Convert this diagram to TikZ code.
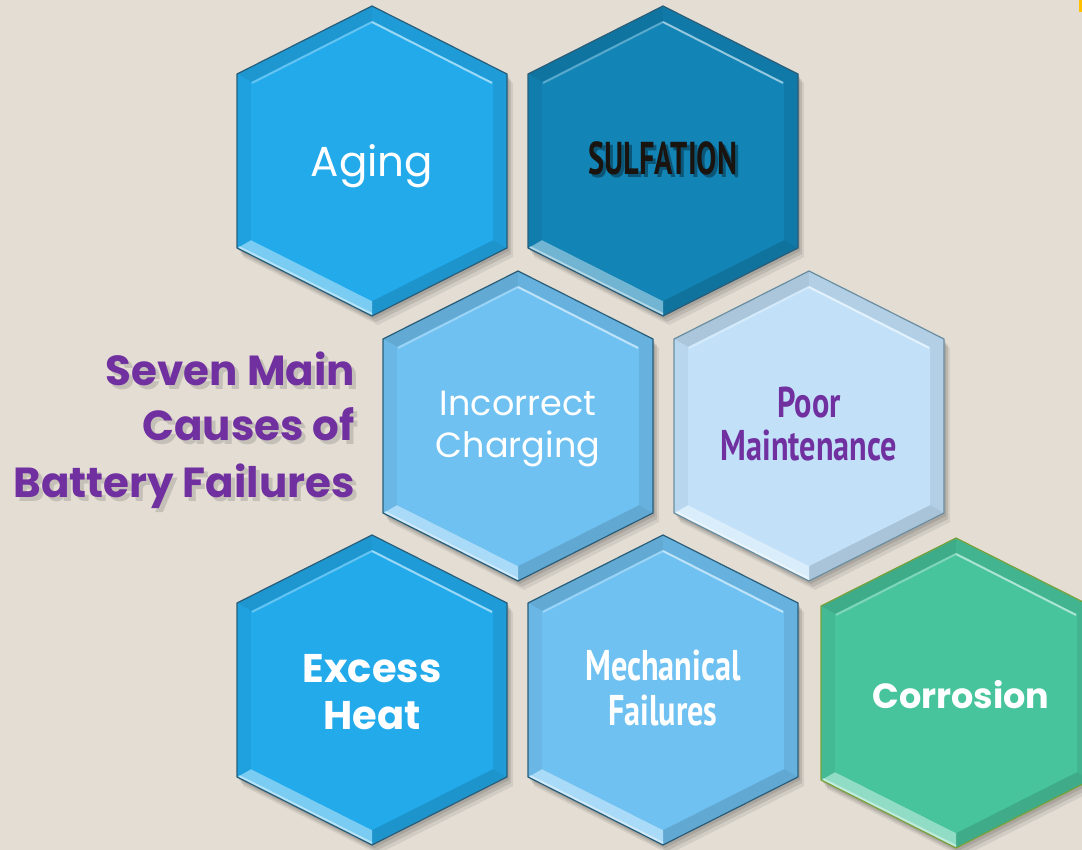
\documentclass[tikz,border=0pt]{standalone}
\usepackage{fontspec}
\newfontfamily\gothic{Poppins}
\newfontfamily\condf{PT Sans}[FakeStretch=0.75]
\newfontfamily\condn{PT Sans}[FakeStretch=0.66]
\definecolor{bg}{HTML}{E3DDD3}
\definecolor{cA}{HTML}{22AAEB}
\definecolor{cS}{HTML}{1284B6}
\definecolor{cI}{HTML}{6FC1F1}
\definecolor{cP}{HTML}{C2E1F9}
\definecolor{cC}{HTML}{48C49C}
\definecolor{lnB}{HTML}{2A5D78}
\definecolor{lnG}{HTML}{7BA23A}
\definecolor{purp}{HTML}{7030A0}
\definecolor{sulf}{HTML}{1A1410}
\definecolor{orng}{HTML}{FFC000}
\newcommand\hexout{(0,-155) -- (135,-87) -- (135,87) -- (0,155) -- (-135,87) -- (-135,-87) -- cycle}
\newcommand\hexin{(0,-140) -- (121,-79) -- (121,79) -- (0,140) -- (-121,79) -- (-121,-79) -- cycle}
\newcommand\drawhex[4]{%
\begin{scope}[shift={(#1,#2)}]
  \fill[black,opacity=.10,shift={(2,3)}] \hexout;
  \fill[black,opacity=.10,shift={(4,6)}] \hexout;
  \fill[black,opacity=.07,shift={(6,9)}] \hexout;
  \fill[#3] \hexout;
  \fill[#3!88!black] (-135,-87) -- (0,-155) -- (0,-140) -- (-121,-79) -- cycle;
  \fill[#3!92!black] (0,-155) -- (135,-87) -- (121,-79) -- (0,-140) -- cycle;
  \fill[#3!92!black] (135,-87) -- (135,87) -- (121,79) -- (121,-79) -- cycle;
  \fill[#3!87!black] (135,87) -- (0,155) -- (0,140) -- (121,79) -- cycle;
  \fill[#3!60!white] (0,155) -- (-135,87) -- (-121,79) -- (0,140) -- cycle;
  \fill[#3!95!black] (-135,87) -- (-135,-87) -- (-121,-79) -- (-121,79) -- cycle;
  \fill[#3] \hexin;
  \draw[white,opacity=.55,line width=2pt] (0,-139) -- (120,-78);
  \draw[white,opacity=.3,line width=2pt] (0,-139) -- (-120,-78);
  \draw[white,opacity=.45,line width=2pt] (-133,86) -- (0,153);
  \draw[#4,line width=1.2pt,line join=round] \hexout;
\end{scope}}
\tikzset{
  thin label/.style={text=white,font=\gothic\fontsize{#1}{#1}\selectfont,inner sep=0pt,anchor=base},
  bold label/.style={font=\gothic\bfseries\fontsize{#1}{#1}\selectfont,inner sep=0pt,anchor=base},
  cond label/.style={font=\condf\bfseries\fontsize{#1}{#1}\selectfont,inner sep=0pt,anchor=base},
  narrow label/.style={font=\condn\bfseries\fontsize{#1}{#1}\selectfont,inner sep=0pt,anchor=base},
}
\begin{document}
\begin{tikzpicture}[x=1pt,y=-1pt]
\useasboundingbox (0,0) rectangle (1082,850);
\clip (0,0) rectangle (1082,850);
\fill[bg] (0,0) rectangle (1082,850);
\fill[orng] (1079,0) rectangle (1082,12);
% hexagons
\drawhex{372}{161}{cA}{lnB}
\drawhex{663}{161}{cS}{lnB}
\drawhex{518}{426}{cI}{lnB}
\drawhex{809}{426}{cP}{lnB!70!white}
\drawhex{372}{690}{cA}{lnB}
\drawhex{663}{690}{cI}{lnB}
\drawhex{956}{693}{cC}{lnG}
% texts
\node[thin label=42] (aging) at (372,177) {Aging};
\node[narrow label=46,text=black,opacity=.35] (sulfsh) at (666,178) {SULFATION};
\node[narrow label=46,text=sulf] (sulf) at (663,175) {SULFATION};
\node[thin label=35] (inc1) at (518,415) {Incorrect};
\node[thin label=35] (inc2) at (518,457) {Charging};
\node[cond label=43,text=purp] (poor1) at (809,417) {Poor};
\node[cond label=43,text=purp] (poor2) at (809,460) {Maintenance};
\node[bold label=40,text=white] (exc1) at (372,682) {Excess};
\node[bold label=40,text=white] (exc2) at (372,729) {Heat};
\node[cond label=43,text=white] (mech1) at (663,680) {Mechanical};
\node[cond label=43,text=white] (mech2) at (663,725) {Failures};
\node[bold label=35,text=white] (corr) at (961,708) {Corrosion};
% title
\foreach \t/\yy/\nm in {Seven Main/385/t1,Causes of/440/t2,Battery Failures/497/t3}{
  \node[bold label=42,text=black,opacity=.13,anchor=base east] (\nm s) at (359,\yy+4) {\t};
  \node[bold label=42,text=purp,anchor=base east] (\nm) at (355,\yy) {\t};
}
\end{tikzpicture}
\end{document}
